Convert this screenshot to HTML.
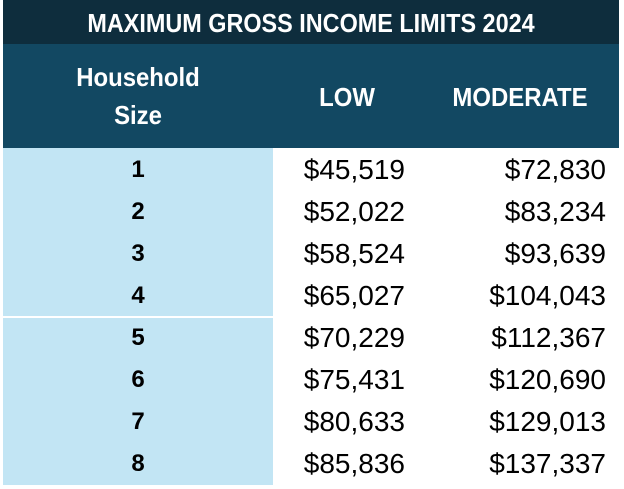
<!DOCTYPE html>
<html><head><meta charset="utf-8">
<style>
body{margin:0;width:624px;height:489px;background:#fff;position:relative;overflow:hidden;font-family:"Liberation Sans",Arial,sans-serif}
.a{position:absolute}
.hd{color:#fff;font-weight:bold;white-space:nowrap;transform-origin:center;}
.num{position:absolute;font-size:28px;color:#000;white-space:nowrap;line-height:42px}
.sz{position:absolute;font-size:24px;font-weight:bold;width:270px;left:3px;text-align:center;line-height:42px}
</style></head>
<body>
<div class="a" style="left:3px;top:0;width:616px;height:44px;background:#0e2d3d"></div>
<div class="a hd" style="left:3px;top:0;width:616px;height:44px;line-height:46px;text-align:center;font-size:26px;transform:scaleX(0.9)">MAXIMUM GROSS INCOME LIMITS 2024</div>
<div class="a" style="left:3px;top:44px;width:616px;height:104px;background:#124862"></div>
<div class="a hd" style="left:3px;top:58px;width:270px;text-align:center;font-size:26px;line-height:38px;transform:scaleX(0.92)">Household<br>Size</div>
<div class="a hd" style="left:287px;top:78px;width:120px;text-align:center;font-size:26px;line-height:38px;transform:scaleX(0.92)">LOW</div>
<div class="a hd" style="left:440px;top:78px;width:160px;text-align:center;font-size:26px;line-height:38px;transform:scaleX(0.92)">MODERATE</div>
<div class="a" style="left:3px;top:148px;width:270px;height:337px;background:#c2e5f4"></div>
<div class="a" style="left:3px;top:316px;width:270px;height:2px;background:#fff"></div>
<div id="rows"></div>
<script>
const sizes=["1","2","3","4","5","6","7","8"];
const low=["$45,519","$52,022","$58,524","$65,027","$70,229","$75,431","$80,633","$85,836"];
const moderate=["$72,830","$83,234","$93,639","$104,043","$112,367","$120,690","$129,013","$137,337"];
const host=document.body;
sizes.forEach((s,i)=>{
  const top=149+i*42;
  const a=document.createElement('div');a.className='sz';a.style.top=top+'px';a.textContent=s;
  
  
  host.appendChild(a);
  const b=document.createElement('div');b.className='num';b.style.top=top+'px';b.style.right=(624-405)+'px';b.textContent=low[i];
  
  
  host.appendChild(b);
  const c=document.createElement('div');c.className='num';c.style.top=top+'px';c.style.right=(624-606)+'px';c.textContent=moderate[i];
  
  
  host.appendChild(c);
});
</script>
</body></html>
